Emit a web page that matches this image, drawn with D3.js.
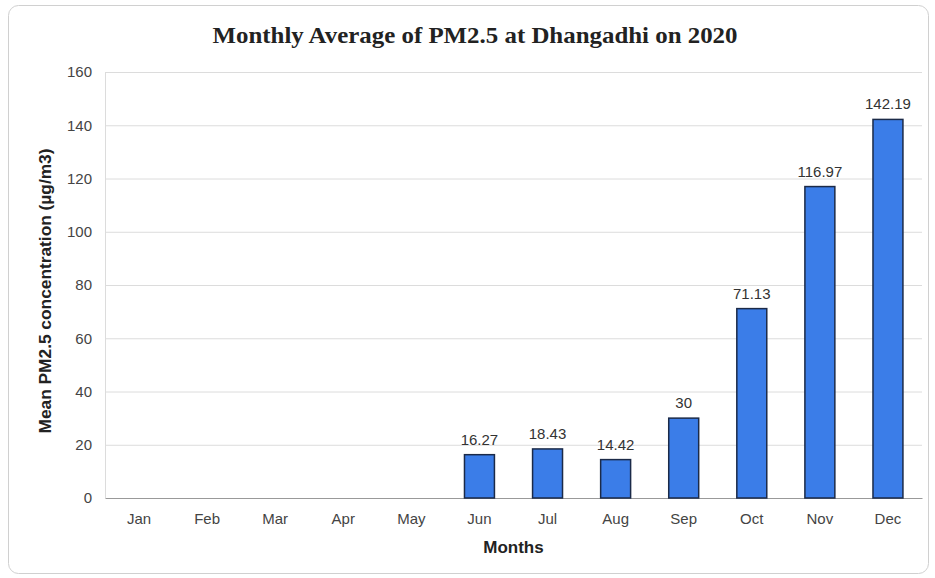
<!DOCTYPE html>
<html>
<head>
<meta charset="utf-8">
<script src="https://cdn.jsdelivr.net/npm/d3@7"></script>
<style>
  body { margin: 0; background: #fff; }
  text { font-family: "Liberation Sans", Arial, sans-serif; }
</style>
</head>
<body>
<script>
// data
var months = ["Jan", "Feb", "Mar", "Apr", "May", "Jun", "Jul", "Aug", "Sep", "Oct", "Nov", "Dec"];
var pm25 = [null, null, null, null, null, 16.27, 18.43, 14.42, 30, 71.13, 116.97, 142.19];
var pm25Labels = ["", "", "", "", "", "16.27", "18.43", "14.42", "30", "71.13", "116.97", "142.19"];
var yTicks = [0, 20, 40, 60, 80, 100, 120, 140, 160];

var wid = 935, hei = 578;
var margin = {top: 72, right: 13, bottom: 80, left: 105};

var svg = d3.select("body").append("svg")
  .attr("width", wid)
  .attr("height", hei);

// outer frame
svg.append("rect")
  .attr("x", 8.5).attr("y", 5.5)
  .attr("width", 920).attr("height", 568)
  .attr("rx", 10)
  .style("fill", "#fff")
  .style("stroke", "#d0d0d0");

var xScale = d3.scaleBand().domain(months)
  .range([margin.left, wid - margin.right])
  .paddingInner(0.56).paddingOuter(0.28);

var yScale = d3.scaleLinear().domain([0, 160])
  .range([hei - margin.bottom, margin.top]);

// gridlines
svg.append("g").selectAll("line")
  .data(yTicks.slice(1))
  .enter().append("line")
  .attr("x1", margin.left).attr("x2", wid - margin.right)
  .attr("y1", d => yScale(d) + 0.5).attr("y2", d => yScale(d) + 0.5)
  .style("stroke", "#dcdcdc");

// left line
svg.append("line")
  .attr("x1", margin.left + 0.5).attr("x2", margin.left + 0.5)
  .attr("y1", yScale(160)).attr("y2", yScale(0))
  .style("stroke", "#dcdcdc");

var yAxis = svg.append("g")
  .attr("transform", "translate(" + margin.left + ",0)")
  .call(d3.axisLeft(yScale).tickValues(yTicks).tickSize(0).tickPadding(13));
yAxis.select(".domain").remove();
yAxis.selectAll("text").style("font-size", "15px").style("fill", "#444");

var xAxis = svg.append("g")
  .attr("transform", "translate(0," + yScale(0) + ")")
  .call(d3.axisBottom(xScale).tickSize(0).tickPadding(15));
xAxis.select(".domain").style("stroke", "#999");
xAxis.selectAll("text").style("font-size", "15px").style("fill", "#444");

// bars
var present = months.map((m, i) => ({m: m, v: pm25[i], lab: pm25Labels[i]})).filter(d => d.v != null);

svg.append("g").selectAll("rect")
  .data(present)
  .enter().append("rect")
  .attr("x", d => xScale(d.m))
  .attr("y", d => yScale(d.v))
  .attr("width", xScale.bandwidth())
  .attr("height", d => yScale(0) - yScale(d.v))
  .style("fill", "#3b7de8")
  .style("stroke", "#1b2a48")
  .style("stroke-width", 1.5);

svg.append("g").selectAll("text")
  .data(present)
  .enter().append("text")
  .attr("x", d => xScale(d.m) + xScale.bandwidth() / 2)
  .attr("y", d => yScale(d.v) - 10)
  .attr("text-anchor", "middle")
  .style("font-size", "15px")
  .style("fill", "#333")
  .text(d => d.lab);

// title
svg.append("text")
  .attr("x", 475).attr("y", 43)
  .attr("text-anchor", "middle")
  .attr("textLength", 525)
  .attr("lengthAdjust", "spacingAndGlyphs")
  .style("font-family", "'Liberation Serif', 'DejaVu Serif', serif")
  .style("font-weight", "bold")
  .style("font-size", "23px")
  .style("fill", "#222")
  .text("Monthly Average of PM2.5 at Dhangadhi on 2020");

// axis titles
svg.append("text")
  .attr("x", (margin.left + wid - margin.right) / 2)
  .attr("y", 553)
  .attr("text-anchor", "middle")
  .style("font-size", "17px")
  .style("font-weight", "bold")
  .style("fill", "#222")
  .text("Months");

svg.append("text")
  .attr("transform", "translate(51,291) rotate(-90)")
  .attr("text-anchor", "middle")
  .attr("textLength", 285)
  .attr("lengthAdjust", "spacingAndGlyphs")
  .style("font-size", "16px")
  .style("font-weight", "bold")
  .style("fill", "#222")
  .text("Mean PM2.5 concentration (µg/m3)");
</script>
</body>
</html>
